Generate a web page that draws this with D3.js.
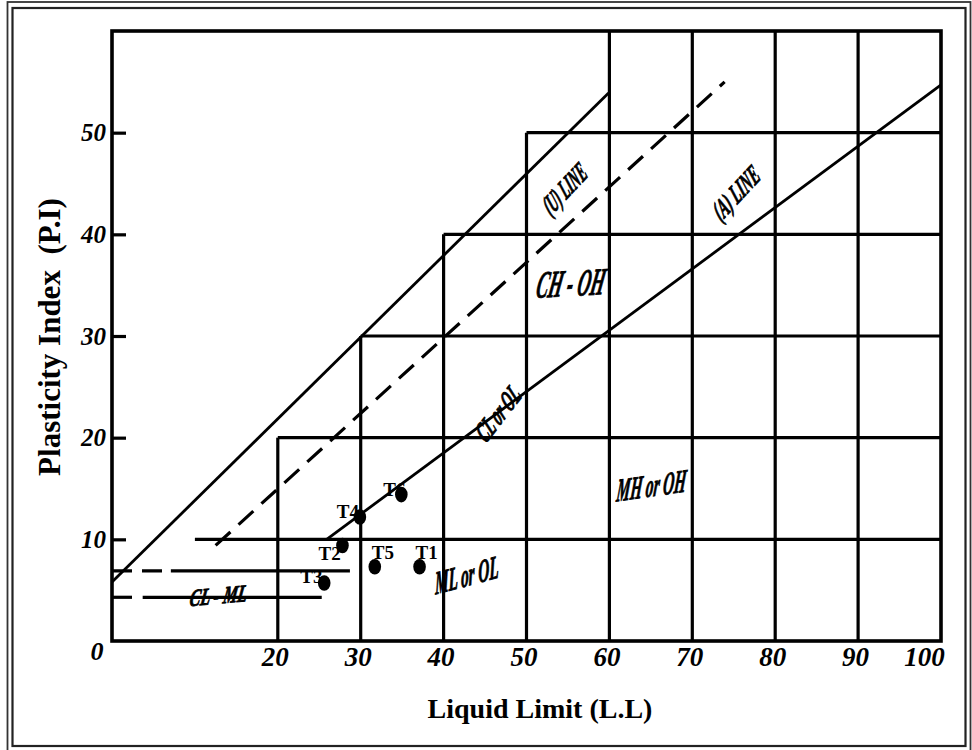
<!DOCTYPE html>
<html lang="en">
<head>
  <meta charset="UTF-8">
  <title>Plasticity chart</title>
  <script src="https://cdnjs.cloudflare.com/ajax/libs/d3/7.8.5/d3.min.js"></script>
  <style>
    body {
      margin: 0;
      background: white;
    }
    svg {
      display: block;
      font-family: "Liberation Serif", "Times New Roman", serif;
    }
  </style>
</head>
<body>
  <script>
    // test samples (liquid limit, plasticity index)
    var samples = ["T1", "T2", "T3", "T4", "T5", "T6"];
    var liquidLimit = [37.1, 27.8, 25.6, 29.9, 31.7, 34.9];
    var plasticityIndex = [7.3, 9.4, 5.7, 12.2, 7.3, 14.4];

    var xTicks = [20, 30, 40, 50, 60, 70, 80, 90, 100];
    var yTicks = [10, 20, 30, 40, 50];
    var gridLL = [20, 30, 40, 50, 60, 70, 80, 90];

    // boundary lines, [LL, PI] at each end
    var uLine = [[0, 5.8], [59.9, 53.9]];
    var aLine = [[25.9, 10.0], [100, 54.7]];
    var midLine = [[12.5, 9.4], [73.9, 55.0]];

    // CL-ML band: level, end of dashed part, end of line
    var bandLevel = [6.9, 4.3];
    var bandDashTo = [7.0, 3.6];
    var bandTo = [28.7, 25.3];

    // zone names with their place in chart units and tilt
    var zoneNames = ["(U) LINE", "(A) LINE", "CH - OH", "CL or OL", "MH or OH", "ML or OL", "CL - ML"];
    var zoneLL = [54.6, 75.3, 55.4, 46.6, 65.1, 42.8, 12.9];
    var zonePI = [44.5, 44.1, 35.2, 22.4, 15.3, 6.5, 4.5];
    var zoneTilt = [-47, -47, -3, -52, -8, -15, -5];

    var w = 972;
    var h = 750;

    var svg = d3.select("body").append("svg")
      .attr("width", w)
      .attr("height", h);

    // double frame
    svg.append("rect")
      .attr("x", 7.5).attr("y", 2)
      .attr("width", 963).attr("height", 760)
      .attr("fill", "none").attr("stroke", "#333").attr("stroke-width", 1.8);
    svg.append("rect")
      .attr("x", 12.5).attr("y", 8)
      .attr("width", 953).attr("height", 738)
      .attr("fill", "none").attr("stroke", "#222").attr("stroke-width", 2.2);

    var x = d3.scaleLinear().domain([0, 100]).range([112, 941]);
    var y = d3.scaleLinear().domain([0, 60]).range([641, 31]);

    var line = d3.line()
      .x(function(d) { return x(d[0]); })
      .y(function(d) { return y(d[1]); });

    // stepped grid
    svg.selectAll("line.vgrid")
      .data(gridLL)
      .enter()
      .append("line")
      .attr("class", "vgrid")
      .attr("x1", function(d) { return x(d); })
      .attr("x2", function(d) { return x(d); })
      .attr("y1", y(0))
      .attr("y2", function(d) { return y(Math.min(d, 60)); })
      .attr("stroke", "black")
      .attr("stroke-width", 3.2);

    svg.selectAll("line.hgrid")
      .data(yTicks)
      .enter()
      .append("line")
      .attr("class", "hgrid")
      .attr("x1", function(d) { return x(d); })
      .attr("x2", x(100))
      .attr("y1", function(d) { return y(d); })
      .attr("y2", function(d) { return y(d); })
      .attr("stroke", "black")
      .attr("stroke-width", 3.2);

    // plot frame
    svg.append("rect")
      .attr("x", x(0))
      .attr("y", y(60))
      .attr("width", x(100) - x(0))
      .attr("height", y(0) - y(60))
      .attr("fill", "none")
      .attr("stroke", "black")
      .attr("stroke-width", 3.6);

    // U line, A line, dashed line
    svg.append("path").attr("d", line(uLine))
      .attr("fill", "none").attr("stroke", "black").attr("stroke-width", 2.8);
    svg.append("path").attr("d", line(aLine))
      .attr("fill", "none").attr("stroke", "black").attr("stroke-width", 2.8);
    svg.append("path").attr("d", line(midLine))
      .attr("fill", "none").attr("stroke", "black").attr("stroke-width", 3.2)
      .attr("stroke-dasharray", "20,11");

    // CL-ML band lines
    bandLevel.forEach(function(lv, i) {
      svg.append("path").attr("d", line([[0, lv], [bandDashTo[i], lv]]))
        .attr("stroke", "black").attr("stroke-width", 3.2)
        .attr("stroke-dasharray", "20,10");
      svg.append("path").attr("d", line([[bandDashTo[i] + 0.1, lv], [bandTo[i], lv]]))
        .attr("stroke", "black").attr("stroke-width", 3.2);
    });

    // axes
    var yAxis = svg.append("g")
      .attr("transform", "translate(" + x(0) + ",0)")
      .call(d3.axisLeft(y).tickValues(yTicks).tickSize(-14).tickSizeOuter(0)
        .tickPadding(6).tickFormat(d3.format("d")));
    yAxis.select(".domain").remove();
    yAxis.selectAll("line").attr("stroke-width", 3.2);
    yAxis.selectAll("text")
      .attr("font-size", 25).attr("font-style", "italic").attr("font-weight", "bold")
      .attr("font-family", "Liberation Serif");

    var xAxis = svg.append("g")
      .attr("transform", "translate(0," + y(0) + ")")
      .call(d3.axisBottom(x).tickValues(xTicks).tickSize(0).tickPadding(6)
        .tickFormat(d3.format("d")));
    xAxis.select(".domain").remove();
    xAxis.selectAll("text")
      .attr("font-size", 27).attr("font-style", "italic").attr("font-weight", "bold")
      .attr("font-family", "Liberation Serif")
      .attr("dx", function(d) { return d === 100 ? -17 : -3; });

    svg.append("text")
      .attr("x", 97).attr("y", 660)
      .attr("text-anchor", "middle")
      .attr("font-size", 26).attr("font-style", "italic").attr("font-weight", "bold")
      .text("0");

    // titles
    svg.append("text")
      .attr("x", 540).attr("y", 718)
      .attr("text-anchor", "middle")
      .attr("font-size", 28).attr("font-weight", "bold")
      .text("Liquid Limit (L.L)");

    svg.append("text")
      .attr("transform", "translate(60,337) rotate(-90)")
      .attr("text-anchor", "middle")
      .attr("font-size", 31).attr("font-weight", "bold")
      .attr("xml:space", "preserve")
      .style("white-space", "pre")
      .text("Plasticity Index  (P.I)");

    // zone names, narrow heavy italic
    var zoneSize = [26, 26, 38, 27, 32, 32, 24];
    var zoneWidth = [56, 60, 68, 60, 70, 66, 58];
    svg.selectAll("text.zone")
      .data(zoneNames)
      .enter()
      .append("text")
      .attr("class", "zone")
      .attr("transform", function(d, i) {
        return "translate(" + x(zoneLL[i]) + "," + y(zonePI[i]) + ") rotate(" + zoneTilt[i] + ") skewX(-14)";
      })
      .attr("text-anchor", "middle")
      .attr("dominant-baseline", "central")
      .attr("font-size", function(d, i) { return zoneSize[i]; })
      .attr("font-style", "italic")
      .attr("font-weight", "bold")
      .attr("stroke", "black")
      .attr("stroke-width", 0.9)
      .attr("textLength", function(d, i) { return zoneWidth[i]; })
      .attr("lengthAdjust", "spacingAndGlyphs")
      .text(function(d) { return d; });

    // sample points
    var pts = samples.map(function(s, i) {
      return { name: s, ll: liquidLimit[i], pi: plasticityIndex[i] };
    });
    var labelShift = {
      T1: [-4, -8], T2: [-24, 15], T3: [-24, 0],
      T4: [-23, 1], T5: [-3, -8], T6: [-18, 1]
    };

    svg.selectAll("text.sample")
      .data(pts)
      .enter()
      .append("text")
      .attr("class", "sample")
      .attr("x", function(d) { return x(d.ll) + labelShift[d.name][0]; })
      .attr("y", function(d) { return y(d.pi) + labelShift[d.name][1]; })
      .attr("font-size", 19)
      .attr("font-weight", "bold")
      .text(function(d) { return d.name; });

    svg.selectAll("ellipse")
      .data(pts)
      .enter()
      .append("ellipse")
      .attr("cx", function(d) { return x(d.ll); })
      .attr("cy", function(d) { return y(d.pi); })
      .attr("rx", 6.3)
      .attr("ry", 7.8)
      .attr("fill", "black");
  </script>
</body>
</html>
